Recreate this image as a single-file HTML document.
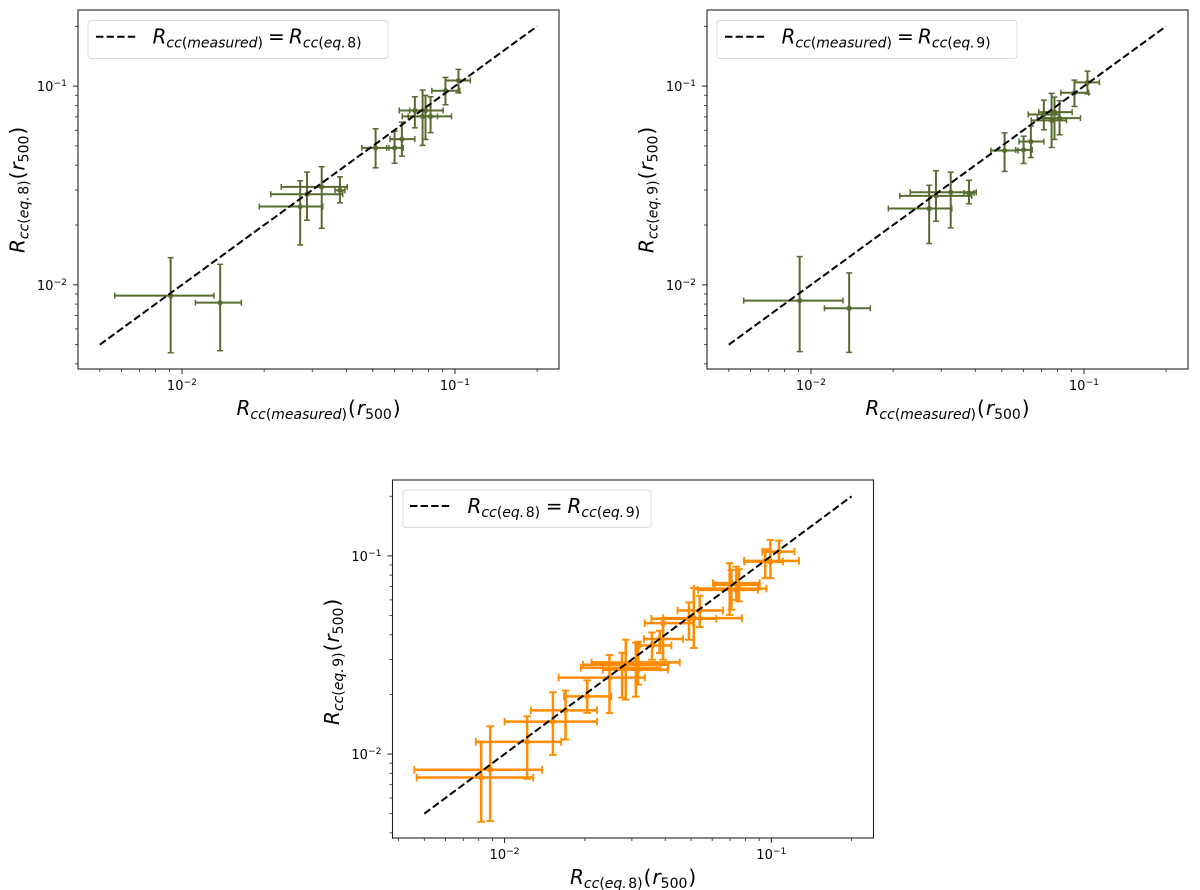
<!DOCTYPE html>
<html lang="en">
<head>
<meta charset="utf-8">
<title>Cool-core radius comparison</title>
<style>
html,body{margin:0;padding:0;background:#fff;}
svg{display:block;font-family:"DejaVu Sans","Liberation Sans",sans-serif;}
text{fill:#000;}
.m{font-style:italic;}
.u{font-style:normal;}
</style>
</head>
<body>
<svg id="figure" xmlns="http://www.w3.org/2000/svg" width="1200" height="890" viewBox="0 0 1200 890">
  <rect x="78" y="10" width="481" height="359" fill="#fff" stroke="#222" stroke-width="1.1"/>
  <rect x="707" y="10" width="481" height="359" fill="#fff" stroke="#222" stroke-width="1.1"/>
  <rect x="392.5" y="480" width="481" height="358" fill="#fff" stroke="#222" stroke-width="1.1"/>

  <g id="panel1"></g>
  <g id="panel2"></g>
  <g id="panel3"></g>

  <g>
    <rect x="88" y="20.5" width="300" height="38" rx="3" fill="#fff" stroke="#dcdcdc" stroke-width="1"/>
    <line x1="96" y1="36.7" x2="136" y2="36.7" stroke="#000" stroke-width="2" stroke-dasharray="7.4 3.2"/>
    <text x="152.5" y="43.5" font-size="20"><tspan class="m">R</tspan><tspan dy="4" font-size="14"><tspan class="m">cc</tspan><tspan class="u">(</tspan><tspan class="m">measured</tspan><tspan class="u">)</tspan></tspan><tspan x="268" dy="-4" class="u">=</tspan><tspan x="289" class="m">R</tspan><tspan dy="4" font-size="14"><tspan class="m">cc</tspan><tspan class="u">(</tspan><tspan class="m">eq.</tspan><tspan class="u" dx="1.5">8)</tspan></tspan></text>
  </g>
  <g>
    <rect x="717" y="20.5" width="300" height="38" rx="3" fill="#fff" stroke="#dcdcdc" stroke-width="1"/>
    <line x1="725" y1="36.7" x2="765" y2="36.7" stroke="#000" stroke-width="2" stroke-dasharray="7.4 3.2"/>
    <text x="781.5" y="43.5" font-size="20"><tspan class="m">R</tspan><tspan dy="4" font-size="14"><tspan class="m">cc</tspan><tspan class="u">(</tspan><tspan class="m">measured</tspan><tspan class="u">)</tspan></tspan><tspan x="897" dy="-4" class="u">=</tspan><tspan x="918" class="m">R</tspan><tspan dy="4" font-size="14"><tspan class="m">cc</tspan><tspan class="u">(</tspan><tspan class="m">eq.</tspan><tspan class="u" dx="1.5">9)</tspan></tspan></text>
  </g>
  <g>
    <rect x="403" y="490" width="248" height="37.5" rx="3" fill="#fff" stroke="#dcdcdc" stroke-width="1"/>
    <line x1="410" y1="506" x2="450" y2="506" stroke="#000" stroke-width="2" stroke-dasharray="7.4 3.2"/>
    <text x="467.5" y="513" font-size="20"><tspan class="m">R</tspan><tspan dy="4" font-size="14"><tspan class="m">cc</tspan><tspan class="u">(</tspan><tspan class="m">eq.</tspan><tspan class="u" dx="1.5">8)</tspan></tspan><tspan x="545.8" dy="-4" class="u">=</tspan><tspan x="567.5" class="m">R</tspan><tspan dy="4" font-size="14"><tspan class="m">cc</tspan><tspan class="u">(</tspan><tspan class="m">eq.</tspan><tspan class="u" dx="1.5">9)</tspan></tspan></text>
  </g>

  <text x="236.5" y="415" font-size="20"><tspan class="m">R</tspan><tspan dy="4" font-size="14"><tspan class="m">cc</tspan><tspan class="u">(</tspan><tspan class="m">measured</tspan><tspan class="u">)</tspan></tspan><tspan dx="1" dy="-4" class="u">(</tspan><tspan dx="1" class="m">r</tspan><tspan dy="4" font-size="14" class="u">500</tspan><tspan dx="1" dy="-4" class="u">)</tspan></text>
  <text x="865.5" y="415" font-size="20"><tspan class="m">R</tspan><tspan dy="4" font-size="14"><tspan class="m">cc</tspan><tspan class="u">(</tspan><tspan class="m">measured</tspan><tspan class="u">)</tspan></tspan><tspan dx="1" dy="-4" class="u">(</tspan><tspan dx="1" class="m">r</tspan><tspan dy="4" font-size="14" class="u">500</tspan><tspan dx="1" dy="-4" class="u">)</tspan></text>
  <text x="570" y="884" font-size="20"><tspan class="m">R</tspan><tspan dy="4" font-size="14"><tspan class="m">cc</tspan><tspan class="u">(</tspan><tspan class="m">eq.</tspan><tspan class="u" dx="1.5">8)</tspan></tspan><tspan dx="1" dy="-4" class="u">(</tspan><tspan dx="1" class="m">r</tspan><tspan dy="4" font-size="14" class="u">500</tspan><tspan dx="1" dy="-4" class="u">)</tspan></text>

  <text transform="translate(24.5,253) rotate(-90)" font-size="20"><tspan class="m">R</tspan><tspan dy="4" font-size="14"><tspan class="m">cc</tspan><tspan class="u">(</tspan><tspan class="m">eq.</tspan><tspan class="u" dx="1.5">8)</tspan></tspan><tspan dx="1" dy="-4" class="u">(</tspan><tspan dx="1" class="m">r</tspan><tspan dy="4" font-size="14" class="u">500</tspan><tspan dx="1" dy="-4" class="u">)</tspan></text>
  <text transform="translate(653.5,253) rotate(-90)" font-size="20"><tspan class="m">R</tspan><tspan dy="4" font-size="14"><tspan class="m">cc</tspan><tspan class="u">(</tspan><tspan class="m">eq.</tspan><tspan class="u" dx="1.5">9)</tspan></tspan><tspan dx="1" dy="-4" class="u">(</tspan><tspan dx="1" class="m">r</tspan><tspan dy="4" font-size="14" class="u">500</tspan><tspan dx="1" dy="-4" class="u">)</tspan></text>
  <text transform="translate(339,725) rotate(-90)" font-size="20"><tspan class="m">R</tspan><tspan dy="4" font-size="14"><tspan class="m">cc</tspan><tspan class="u">(</tspan><tspan class="m">eq.</tspan><tspan class="u" dx="1.5">9)</tspan></tspan><tspan dx="1" dy="-4" class="u">(</tspan><tspan dx="1" class="m">r</tspan><tspan dy="4" font-size="14" class="u">500</tspan><tspan dx="1" dy="-4" class="u">)</tspan></text>
</svg>
<script>
// Data: measured radii shared by the two upper panels
const measuredX     = [0.00909,0.0138,0.0271,0.0287,0.0325,0.0379,0.0512,0.0601,0.0639,0.0713,0.0761,0.078,0.0814,0.0923,0.103];
const measuredXLow  = [0.00567,0.0112,0.0192,0.02115,0.0231,0.03635,0.0456,0.0562,0.0578,0.0625,0.0641,0.0683,0.0674,0.0823,0.0925];
const measuredXHigh = [0.0131,0.0165,0.0328,0.0388,0.0403,0.03955,0.0573,0.0646,0.0713,0.0814,0.0863,0.0905,0.0971,0.1041,0.1139];
// Panel 1: eq. 8
const eq8Y     = [0.00882,0.00813,0.02477,0.02857,0.0311,0.0299,0.0489,0.0489,0.0541,0.0754,0.0704,0.0754,0.0704,0.0948,0.1068];
const eq8YLow  = [0.00455,0.00466,0.01588,0.02113,0.01926,0.02586,0.0388,0.0409,0.0444,0.0617,0.0503,0.0539,0.0583,0.0806,0.0926];
const eq8YHigh = [0.0137,0.01268,0.0334,0.0369,0.0393,0.03495,0.061,0.0593,0.0659,0.0884,0.0955,0.0898,0.0884,0.1106,0.1214];
// Panel 2: eq. 9
const eq9Y     = [0.00833,0.00762,0.0242,0.02805,0.02924,0.029,0.0474,0.0478,0.0526,0.072,0.0672,0.074,0.069,0.0926,0.1044];
const eq9YLow  = [0.00461,0.00457,0.01613,0.0209,0.01935,0.02556,0.0372,0.0408,0.0437,0.0603,0.0491,0.0539,0.0569,0.079,0.0915];
const eq9YHigh = [0.01387,0.01148,0.0317,0.0375,0.0369,0.0336,0.0582,0.056,0.0629,0.085,0.0919,0.088,0.0844,0.1072,0.119];
// Panel 3: eq. 8 vs eq. 9
const compareX     = [0.00817,0.00883,0.01215,0.01517,0.01692,0.0204,0.02473,0.02757,0.02846,0.03104,0.03166,0.0357,0.03816,0.03927,0.0491,0.0512,0.0539,0.0698,0.0708,0.0739,0.0756,0.0949,0.0992,0.1068];
const compareXLow  = [0.00468,0.00459,0.0078,0.01,0.01255,0.0167,0.01593,0.0193,0.01967,0.02118,0.02335,0.0321,0.03325,0.03354,0.03553,0.03927,0.0445,0.0512,0.0604,0.0531,0.0613,0.079,0.0794,0.0925];
const compareXHigh = [0.0128,0.01383,0.0163,0.0222,0.0222,0.0251,0.03354,0.0384,0.0412,0.04536,0.0409,0.0422,0.04665,0.0509,0.0622,0.0776,0.0659,0.0958,0.0904,0.0891,0.0904,0.1269,0.1105,0.1222];
const compareY     = [0.00761,0.00833,0.01152,0.01458,0.01662,0.01955,0.0243,0.02728,0.02824,0.029,0.02665,0.03532,0.03805,0.0458,0.04815,0.0485,0.053,0.0684,0.0729,0.0674,0.0714,0.0944,0.0936,0.1051];
const compareYLow  = [0.00455,0.00459,0.0075,0.0099,0.01183,0.01613,0.0161,0.01926,0.01882,0.01948,0.0224,0.02993,0.03234,0.02993,0.03775,0.0343,0.0437,0.0504,0.0535,0.06,0.0589,0.0772,0.0772,0.093];
const compareYHigh = [0.01147,0.0138,0.0155,0.0205,0.0209,0.02354,0.0316,0.03245,0.03775,0.03645,0.0369,0.0411,0.0419,0.0485,0.0582,0.0688,0.0629,0.0919,0.085,0.0883,0.0857,0.1081,0.1204,0.1194];
// Identity line endpoints (data units), axis limits and tick decades
const identityLine = [0.005, 0.2];
const xLimits = [0.00416, 0.2405];
const xLimitsCompare = [0.0038, 0.2415];
const yLimits = [0.00377, 0.2416];
const majorTicks = [0.01, 0.1];
const majorTickLabels = ["\u22122", "\u22121"];
const minorMultipliers = [2,3,4,5,6,7,8,9];
const minorDecades = [0.001, 0.01, 0.1];

const NS = "http://www.w3.org/2000/svg";
const OLIVE = "#556b2f";
const ORANGE = "#ff8c00";
const thinBars = {bar: 2, cap: 1.5, capHalf: 3, dot: 2.6};
const thickBars = {bar: 2.5, cap: 1.9, capHalf: 3.8, dot: 3};

function mk(parent, tag, props) {
  const el = document.createElementNS(NS, tag);
  for (const k in props) el.setAttribute(k, props[k]);
  parent.appendChild(el);
  return el;
}

function drawPanel(id, box, xLim, yLim, xs, xLow, xHigh, ys, yLow, yHigh, color, st) {
  const root = document.getElementById(id);
  const sx = v => box.l + (Math.log10(v) - Math.log10(xLim[0])) / (Math.log10(xLim[1]) - Math.log10(xLim[0])) * box.w;
  const sy = v => box.t + box.h - (Math.log10(v) - Math.log10(yLim[0])) / (Math.log10(yLim[1]) - Math.log10(yLim[0])) * box.h;
  const bottom = box.t + box.h;

  // minor ticks
  minorDecades.forEach(d => minorMultipliers.forEach(m => {
    const v = d * m;
    if (v > xLim[0] && v < xLim[1]) {
      const t = mk(root, "line", {x1: sx(v), x2: sx(v), y1: bottom, y2: bottom + 3, stroke: "#222", "stroke-width": 0.8});
      
      
    }
    if (v > yLim[0] && v < yLim[1]) {
      const t = mk(root, "line", {x1: box.l - 3, x2: box.l, y1: sy(v), y2: sy(v), stroke: "#222", "stroke-width": 0.8});
      
      
    }
  }));

  // major ticks and labels
  majorTicks.forEach((v, i) => {
    const xt = mk(root, "line", {x1: sx(v), x2: sx(v), y1: bottom, y2: bottom + 5, stroke: "#222", "stroke-width": 1});
    
    
    const yt = mk(root, "line", {x1: box.l - 5, x2: box.l, y1: sy(v), y2: sy(v), stroke: "#222", "stroke-width": 1});
    
    

    const xl = mk(root, "text", {x: sx(v), y: bottom + 21, "font-size": 13, "text-anchor": "middle"});
    
    
    xl.appendChild(document.createTextNode("10"));
    const xs1 = mk(xl, "tspan", {dy: -5, "font-size": 9.2});
    xs1.textContent = majorTickLabels[i];

    const yl = mk(root, "text", {x: box.l - 11, y: sy(v) + 5, "font-size": 13, "text-anchor": "end"});
    
    
    yl.appendChild(document.createTextNode("10"));
    const ys1 = mk(yl, "tspan", {dy: -5, "font-size": 9.2});
    ys1.textContent = majorTickLabels[i];
  });

  // error bars
  xs.forEach((x, i) => {
    const g = mk(root, "g", {stroke: color, fill: color});
    
    
    const px = sx(x), py = sy(ys[i]);
    const x0 = sx(xLow[i]), x1 = sx(xHigh[i]);
    const y0 = sy(yLow[i]), y1 = sy(yHigh[i]);
    mk(g, "line", {x1: x0, x2: x1, y1: py, y2: py, "stroke-width": st.bar});
    mk(g, "line", {x1: px, x2: px, y1: y0, y2: y1, "stroke-width": st.bar});
    mk(g, "line", {x1: x0, x2: x0, y1: py - st.capHalf, y2: py + st.capHalf, "stroke-width": st.cap});
    mk(g, "line", {x1: x1, x2: x1, y1: py - st.capHalf, y2: py + st.capHalf, "stroke-width": st.cap});
    mk(g, "line", {x1: px - st.capHalf, x2: px + st.capHalf, y1: y0, y2: y0, "stroke-width": st.cap});
    mk(g, "line", {x1: px - st.capHalf, x2: px + st.capHalf, y1: y1, y2: y1, "stroke-width": st.cap});
    mk(g, "circle", {cx: px, cy: py, r: st.dot, stroke: "none"});
  });

  // identity line
  const line = mk(root, "line", {
    x1: sx(identityLine[0]), y1: sy(identityLine[0]),
    x2: sx(identityLine[1]), y2: sy(identityLine[1]),
    stroke: "#000", "stroke-width": 2, "stroke-dasharray": "7.4 3.2"
  });
  
  
}

drawPanel("panel1", {l: 78, t: 10, w: 481, h: 359}, xLimits, yLimits, measuredX, measuredXLow, measuredXHigh, eq8Y, eq8YLow, eq8YHigh, OLIVE, thinBars);
drawPanel("panel2", {l: 707, t: 10, w: 481, h: 359}, xLimits, yLimits, measuredX, measuredXLow, measuredXHigh, eq9Y, eq9YLow, eq9YHigh, OLIVE, thinBars);
drawPanel("panel3", {l: 392.5, t: 480, w: 481, h: 358}, xLimitsCompare, yLimits, compareX, compareXLow, compareXHigh, compareY, compareYLow, compareYHigh, ORANGE, thickBars);
</script>
</body>
</html>
